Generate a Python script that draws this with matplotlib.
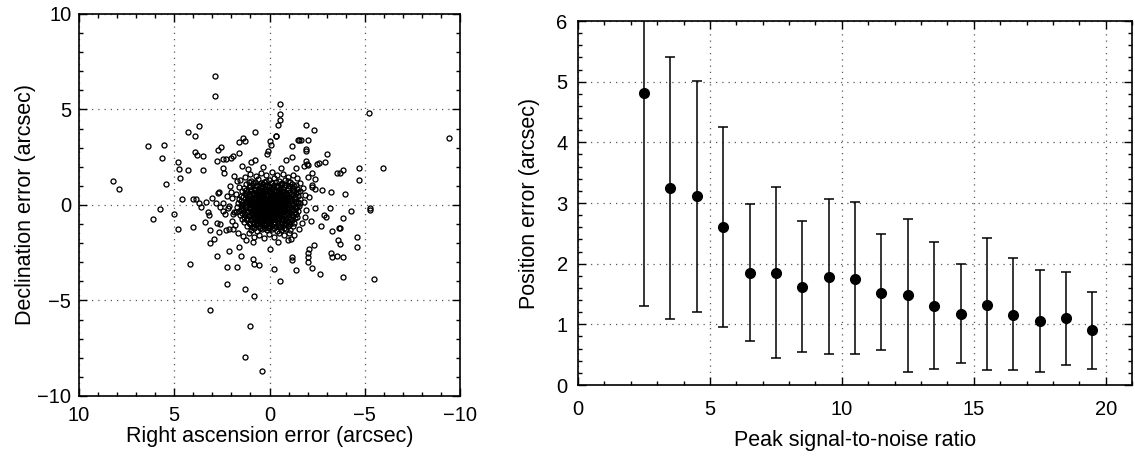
import numpy as np
import matplotlib.pyplot as plt
from matplotlib.ticker import MultipleLocator

plt.rcParams['font.family'] = ['Liberation Sans', 'DejaVu Sans']

# left panel: outlying sources (RA error, Dec error) in arcsec
outer_points = [
    (2.86, 6.74), (2.86, 5.72), (-0.53, 5.26), (-0.53, 4.77), (-0.53, 4.47),
    (-0.42, 4.18), (-0.33, 3.63), (3.72, 4.14), (4.26, 3.81), (3.93, 3.60),
    (6.39, 3.07), (5.54, 3.16), (5.65, 2.44), (4.79, 2.26), (4.74, 1.86),
    (4.70, 1.40), (5.44, 1.09), (8.21, 1.28), (7.89, 0.84), (4.60, 0.32),
    (5.02, -0.46), (5.75, -0.23), (6.09, -0.74), (4.79, -1.25), (4.26, 1.84),
    (3.51, 1.84), (3.51, 2.54), (3.93, 2.75), (3.82, 2.63), (1.60, 3.28),
    (1.39, 3.49), (1.28, 3.33), (0.75, 3.81), (2.72, 2.86), (2.54, 3.04),
    (2.77, 2.32), (2.46, 2.42), (2.39, 1.67), (2.42, 1.91), (2.28, 2.40),
    (2.02, 2.47), (1.60, 2.72), (1.93, 2.54), (1.47, 2.05), (0.99, 2.25),
    (0.75, 2.33), (0.07, 2.81), (0.11, 2.65), (-0.04, 3.33), (-0.09, 3.16),
    (-1.89, 4.21), (-2.35, 3.93), (-1.49, 3.42), (-1.67, 3.40), (-2.04, 3.40),
    (-1.89, 2.93), (-1.93, 2.81), (-3.00, 2.67), (-2.89, 2.25), (-2.51, 2.16),
    (-2.60, 2.19), (-1.96, 2.12), (-3.53, 1.67), (-3.72, 1.68), (-3.86, 1.84),
    (-4.70, 1.95), (-4.70, 1.30), (-2.77, 0.79), (-3.21, 0.67), (-3.96, 0.60),
    (-4.26, -0.33), (-5.25, -0.18), (-5.25, -0.26), (-5.23, 4.81), (-3.86, -0.70),
    (-3.68, -1.18), (-3.63, -1.19), (-3.30, -1.35), (-3.61, -1.81), (-3.72, -2.02),
    (-4.60, -1.68), (-4.60, -2.19), (-3.21, -2.54), (-3.30, -2.74), (-3.54, -2.67),
    (-3.86, -2.74), (-3.86, -3.75), (-5.47, -3.89), (-2.67, -3.60), (-2.25, -3.32),
    (-2.04, -2.96), (-2.04, -2.75), (-2.04, -2.54), (-2.35, -2.12), (-1.39, -3.39),
    (-1.18, -2.88), (-1.18, -2.75), (-0.53, -4.00), (-0.21, -3.35), (0.00, -2.32),
    (0.53, -3.16), (0.84, -3.07), (0.86, -2.81), (1.28, -4.40), (0.84, -4.79),
    (1.05, -6.33), (1.28, -7.98), (0.42, -8.68), (3.11, -5.51), (2.23, -4.16),
    (4.16, -3.09), (2.23, -3.26), (1.70, -3.23), (2.77, -2.68), (2.11, -2.40),
    (1.60, -2.19), (1.49, -2.67), (3.11, -1.98), (2.89, -1.77), (3.14, -1.32),
    (2.67, -1.44), (2.28, -1.32), (1.89, -1.25), (4.04, -1.14), (3.39, -0.91),
    (3.21, -0.39), (3.16, -0.53), (2.77, -0.95), (2.61, -0.98), (4.04, 0.33),
    (3.84, 0.33), (3.72, 0.12), (3.61, -0.09), (3.32, 0.16), (3.04, 0.37),
    (2.79, 0.11), (2.72, 0.61), (2.67, 0.67), (2.58, -0.12), (2.42, -0.30),
    (2.19, -0.18), (2.04, 0.68), (1.93, -0.49), (1.75, -0.39), (-9.40, 3.49),
    (-5.98, 1.93), (-3.19, -0.14), (-2.68, -1.09), (-2.84, -0.53), (-2.98, -0.61),
    (-2.05, -2.28), (-2.37, 0.84), (-2.25, 0.95), (-2.03, 1.46), (-2.37, 1.37),
    (-2.21, 1.67), (-1.82, 2.02), (-2.03, 2.07), (-1.18, 2.49), (-1.39, 1.95),
    (-0.86, 2.35), (-1.93, 2.32), (-1.56, 3.39), (-1.18, 3.07), (-0.32, 3.63),
]

mid_points = [
    (1.86, 1.52), (1.72, 1.25), (2.05, 0.98), (1.95, 0.35), (2.12, -0.05),
    (1.98, -0.82), (1.82, -1.05), (1.65, -1.45), (1.38, -1.62), (1.10, -1.48),
    (0.82, -1.68), (0.55, -1.55), (0.30, -1.71), (0.02, -1.52), (-0.25, -1.66),
    (-0.51, -1.49), (-0.78, -1.58), (-1.02, -1.45), (-1.31, -1.55), (-1.55, -1.28),
    (-1.72, -0.95), (-1.85, -0.62), (-1.92, -0.28), (-1.80, 0.15), (-1.88, 0.52),
    (-1.75, 0.88), (-1.62, 1.15), (-1.45, 1.42), (-1.21, 1.55), (-0.95, 1.48),
    (-0.70, 1.62), (-0.38, 1.58), (-0.12, 1.72), (0.18, 1.55), (0.45, 1.68),
    (0.72, 1.52), (1.02, 1.61), (1.28, 1.45), (1.55, 1.32), (1.58, 0.95),
    (2.25, 0.45), (2.31, -0.45), (2.10, -1.25), (1.25, -1.85), (-0.45, -1.92),
    (-1.15, -1.78), (-2.18, -0.85), (-2.05, 0.42), (-2.25, 1.05), (-0.62, 1.95),
    (0.35, 1.98), (1.15, 1.88), (-1.45, -0.65), (-1.62, 0.72), (1.75, 0.55),
    (1.85, -0.35), (-0.95, -1.82), (0.85, -1.92), (2.45, 0.12), (-2.38, -0.15),
]

core_points = [
    (0.95, 1.28), (0.62, 1.35), (0.31, 1.22), (0.05, 1.31), (-0.22, 1.40),
    (-0.48, 1.25), (-0.81, 1.33), (-1.05, 1.19),
    (1.21, 1.08), (0.88, 1.14), (0.57, 1.02), (0.36, 1.12), (0.12, 1.06),
    (-0.09, 1.15), (-0.34, 1.01), (-0.61, 1.10), (-0.87, 1.04), (-1.16, 1.12),
    (-1.38, 1.07),
    (1.35, 0.88), (1.08, 0.93), (0.81, 0.85), (0.66, 0.97), (0.44, 0.90),
    (0.23, 0.84), (0.02, 0.95), (-0.17, 0.89), (-0.41, 0.92), (-0.55, 0.83),
    (-0.74, 0.96), (-0.98, 0.87), (-1.22, 0.91), (-1.45, 0.86),
    (1.42, 0.71), (1.17, 0.66), (0.96, 0.74), (0.73, 0.68), (0.51, 0.73),
    (0.33, 0.65), (0.14, 0.72), (-0.06, 0.69), (-0.25, 0.76), (-0.44, 0.67),
    (-0.66, 0.72), (-0.85, 0.64), (-1.07, 0.70), (-1.31, 0.75), (-1.52, 0.68),
    (1.50, 0.48), (1.26, 0.53), (1.03, 0.46), (0.84, 0.55), (0.62, 0.49),
    (0.45, 0.52), (0.27, 0.44), (0.09, 0.51), (-0.11, 0.47), (-0.29, 0.54),
    (-0.47, 0.45), (-0.63, 0.50), (-0.82, 0.53), (-1.01, 0.46), (-1.24, 0.51),
    (-1.47, 0.49),
    (1.58, 0.29), (1.31, 0.33), (1.12, 0.27), (0.93, 0.31), (0.71, 0.35),
    (0.55, 0.26), (0.38, 0.32), (0.19, 0.28), (0.03, 0.34), (-0.15, 0.30),
    (-0.33, 0.25), (-0.52, 0.33), (-0.70, 0.29), (-0.91, 0.31), (-1.12, 0.27),
    (-1.33, 0.34), (-1.61, 0.30),
    (1.66, 0.11), (1.40, 0.07), (1.19, 0.13), (0.98, 0.09), (0.79, 0.12),
    (0.61, 0.06), (0.43, 0.10), (0.26, 0.14), (0.08, 0.08), (-0.07, 0.12),
    (-0.24, 0.05), (-0.40, 0.11), (-0.58, 0.09), (-0.77, 0.13), (-0.96, 0.07),
    (-1.17, 0.10), (-1.38, 0.12), (-1.62, 0.08),
    (1.71, -0.09), (1.45, -0.12), (1.22, -0.08), (1.01, -0.13), (0.83, -0.07),
    (0.66, -0.11), (0.48, -0.14), (0.31, -0.09), (0.13, -0.12), (-0.03, -0.06),
    (-0.19, -0.10), (-0.36, -0.13), (-0.53, -0.08), (-0.72, -0.11), (-0.90, -0.14),
    (-1.11, -0.09), (-1.34, -0.12), (-1.57, -0.07),
    (1.62, -0.31), (1.37, -0.27), (1.15, -0.33), (0.94, -0.29), (0.76, -0.34),
    (0.57, -0.26), (0.39, -0.30), (0.21, -0.32), (0.05, -0.28), (-0.12, -0.35),
    (-0.29, -0.29), (-0.46, -0.31), (-0.64, -0.27), (-0.83, -0.33), (-1.03, -0.30),
    (-1.25, -0.28), (-1.48, -0.32),
    (1.55, -0.52), (1.28, -0.47), (1.06, -0.54), (0.87, -0.49), (0.68, -0.53),
    (0.50, -0.46), (0.33, -0.51), (0.16, -0.55), (-0.01, -0.48), (-0.18, -0.52),
    (-0.36, -0.45), (-0.55, -0.50), (-0.74, -0.54), (-0.95, -0.47), (-1.18, -0.51),
    (-1.41, -0.49),
    (1.44, -0.71), (1.19, -0.68), (0.98, -0.74), (0.77, -0.69), (0.58, -0.73),
    (0.40, -0.66), (0.22, -0.72), (0.04, -0.70), (-0.14, -0.75), (-0.31, -0.67),
    (-0.50, -0.71), (-0.69, -0.73), (-0.89, -0.68), (-1.10, -0.72), (-1.33, -0.70),
    (1.33, -0.89), (1.07, -0.93), (0.86, -0.87), (0.66, -0.92), (0.47, -0.88),
    (0.28, -0.94), (0.10, -0.90), (-0.08, -0.86), (-0.26, -0.91), (-0.44, -0.95),
    (-0.63, -0.88), (-0.82, -0.92), (-1.04, -0.89), (-1.27, -0.93),
    (1.18, -1.09), (0.93, -1.13), (0.71, -1.07), (0.49, -1.12), (0.29, -1.06),
    (0.09, -1.14), (-0.12, -1.10), (-0.33, -1.08), (-0.54, -1.13), (-0.76, -1.06),
    (-0.99, -1.11), (-1.21, -1.09),
    (0.97, -1.29), (0.66, -1.34), (0.38, -1.27), (0.14, -1.33), (-0.11, -1.28),
    (-0.37, -1.35), (-0.62, -1.30), (-0.88, -1.26), (-1.09, -1.32),
]

centre_points = [
    (0.55, 0.80), (0.24, 0.78), (-0.08, 0.82), (-0.36, 0.79), (-0.71, 0.81),
    (0.88, 0.61), (0.58, 0.58), (0.38, 0.62), (0.18, 0.59), (-0.02, 0.63),
    (-0.19, 0.57), (-0.37, 0.60), (-0.56, 0.62), (-0.93, 0.58),
    (0.74, 0.41), (0.53, 0.38), (0.36, 0.42), (0.17, 0.39), (-0.04, 0.43),
    (-0.21, 0.37), (-0.39, 0.40), (-0.58, 0.42), (-0.76, 0.38), (-0.95, 0.41),
    (0.85, 0.21), (0.66, 0.18), (0.47, 0.22), (0.30, 0.19), (0.12, 0.23),
    (-0.05, 0.17), (-0.21, 0.20), (-0.37, 0.22), (-0.55, 0.18), (-0.74, 0.21),
    (-0.93, 0.19),
    (0.90, 0.01), (0.71, -0.02), (0.52, 0.02), (0.35, -0.01), (0.17, 0.03),
    (0.01, -0.03), (-0.15, 0.00), (-0.32, 0.02), (-0.49, -0.02), (-0.67, 0.01),
    (-0.86, -0.01),
    (0.86, -0.21), (0.67, -0.18), (0.49, -0.22), (0.30, -0.19), (0.13, -0.23),
    (-0.04, -0.17), (-0.21, -0.20), (-0.38, -0.22), (-0.56, -0.18), (-0.75, -0.21),
    (0.73, -0.41), (0.54, -0.38), (0.36, -0.42), (0.18, -0.39), (0.00, -0.43),
    (-0.17, -0.37), (-0.35, -0.40), (-0.54, -0.42), (-0.73, -0.38),
    (0.61, -0.61), (0.41, -0.58), (0.21, -0.62), (0.02, -0.59), (-0.16, -0.63),
    (-0.35, -0.57), (-0.55, -0.60),
    (0.45, -0.80), (0.15, -0.82), (-0.15, -0.79), (-0.45, -0.81),
    # second layer
    (1.08, 1.18), (0.78, 1.22), (0.47, 1.17), (0.18, 1.24), (-0.35, 1.21),
    (-0.65, 1.16), (-0.95, 1.23),
    (1.05, 0.99), (0.73, 1.03), (0.46, 0.98), (0.24, 1.01), (0.01, 0.97),
    (-0.22, 1.04), (-0.47, 0.99), (-0.74, 1.02), (-1.02, 0.98), (-1.28, 1.00),
    (1.25, 0.79), (0.95, 0.82), (0.75, 0.77), (-0.98, 0.80), (-1.25, 0.78),
    (1.30, 0.61), (1.08, 0.58), (-1.15, 0.60), (-1.38, 0.62),
    (1.38, 0.41), (1.15, 0.38), (0.94, 0.40), (-1.12, 0.39), (-1.35, 0.42),
    (1.48, 0.21), (1.25, 0.18), (1.05, 0.22), (-1.06, 0.19), (-1.27, 0.22),
    (-1.50, 0.18),
    (1.52, 0.02), (1.30, -0.01), (1.10, 0.03), (-1.02, -0.02), (-1.24, 0.01),
    (-1.45, -0.03),
    (1.48, -0.21), (1.26, -0.18), (1.05, -0.22), (-0.95, -0.19), (-1.16, -0.23),
    (-1.38, -0.18),
    (1.42, -0.41), (1.20, -0.38), (0.98, -0.42), (-0.92, -0.39), (-1.12, -0.43),
    (-1.35, -0.38),
    (1.35, -0.61), (1.10, -0.58), (0.85, -0.62), (-0.78, -0.59), (-1.02, -0.63),
    (-1.25, -0.57),
    (1.20, -0.81), (0.95, -0.78), (0.72, -0.82), (-0.72, -0.79), (-0.98, -0.83),
    (-1.18, -0.78),
    (1.05, -1.01), (0.82, -0.98), (0.60, -1.02), (0.38, -0.99), (0.19, -1.03),
    (-0.02, -0.97), (-0.22, -1.01), (-0.43, -1.03), (-0.65, -0.98), (-0.88, -1.02),
    (-1.10, -0.99),
    (0.82, -1.21), (0.52, -1.18), (0.25, -1.22), (0.01, -1.19), (-0.25, -1.23),
    (-0.50, -1.17), (-0.75, -1.21),
    # third layer
    (0.62, 0.70), (0.42, 0.72), (0.23, 0.68), (0.04, 0.71), (-0.15, 0.69),
    (-0.35, 0.72), (-0.55, 0.68), (-0.76, 0.70),
    (0.72, 0.50), (0.54, 0.52), (0.36, 0.48), (0.18, 0.51), (0.00, 0.49),
    (-0.20, 0.53), (-0.38, 0.48), (-0.56, 0.51), (-0.72, 0.49),
    (0.80, 0.30), (0.62, 0.32), (0.46, 0.28), (0.28, 0.31), (0.11, 0.29),
    (-0.06, 0.32), (-0.24, 0.28), (-0.42, 0.30), (-0.61, 0.33), (-0.80, 0.29),
    (0.86, 0.10), (0.69, 0.12), (0.52, 0.08), (0.34, 0.11), (0.17, 0.09),
    (0.00, 0.12), (-0.16, 0.08), (-0.32, 0.10), (-0.49, 0.13), (-0.67, 0.09),
    (-0.86, 0.11),
    (0.88, -0.10), (0.74, -0.08), (0.57, -0.12), (0.39, -0.09), (0.22, -0.11),
    (0.04, -0.08), (-0.11, -0.12), (-0.28, -0.09), (-0.45, -0.11), (-0.62, -0.08),
    (-0.81, -0.12),
    (0.82, -0.30), (0.65, -0.32), (0.47, -0.28), (0.30, -0.31), (0.13, -0.29),
    (-0.04, -0.32), (-0.21, -0.28), (-0.38, -0.31), (-0.55, -0.29), (-0.73, -0.32),
    (0.76, -0.50), (0.58, -0.52), (0.42, -0.48), (0.24, -0.51), (0.07, -0.49),
    (-0.09, -0.52), (-0.27, -0.48), (-0.45, -0.51), (-0.64, -0.49),
    (0.66, -0.70), (0.49, -0.72), (0.31, -0.68), (0.13, -0.71), (-0.05, -0.69),
    (-0.23, -0.72), (-0.41, -0.68), (-0.60, -0.71),
]

# right panel: position error vs peak S/N
snr = [2.5, 3.5, 4.5, 5.5, 6.5, 7.5, 8.5, 9.5, 10.5,
       11.5, 12.5, 13.5, 14.5, 15.5, 16.5, 17.5, 18.5, 19.5]
pos_err = [4.81, 3.24, 3.11, 2.60, 1.85, 1.85, 1.62, 1.78, 1.75,
           1.52, 1.48, 1.30, 1.17, 1.32, 1.16, 1.05, 1.10, 0.90]
err_hi = [6.60, 5.40, 5.01, 4.26, 2.99, 3.27, 2.71, 3.06, 3.01,
          2.49, 2.74, 2.36, 1.99, 2.42, 2.09, 1.89, 1.86, 1.54]
err_lo = [1.31, 1.09, 1.21, 0.96, 0.72, 0.45, 0.54, 0.51, 0.51,
          0.57, 0.22, 0.26, 0.37, 0.24, 0.25, 0.22, 0.33, 0.26]

scatter = np.array(outer_points + mid_points + core_points + centre_points)
ra_err, dec_err = scatter[:, 0], scatter[:, 1]

fig = plt.figure(figsize=(11.35, 4.57), dpi=100)
ax1 = fig.add_axes([0.0696, 0.1335, 0.3357, 0.836])
ax2 = fig.add_axes([0.5093, 0.1575, 0.4881, 0.7965])


def style(ax, xpad, ypad):
    ax.tick_params(which='both', direction='in', top=True, right=True,
                   labelsize=14.5, width=1)
    ax.tick_params(which='major', length=5.5)
    ax.tick_params(which='minor', length=3)
    ax.tick_params(axis='y', pad=ypad)
    ax.tick_params(axis='x', pad=xpad)
    for s in ax.spines.values():
        s.set_linewidth(1.2)
    ax.grid(True, which='major', linestyle=(0, (1, 4)), color='0.35', linewidth=0.9)
    ax.set_axisbelow(True)


ax1.plot(ra_err, dec_err, 'o', mfc='none', mec='k', ms=3.6, mew=0.95)
ax1.set_xlim(10, -10)
ax1.set_ylim(-10, 10)
ax1.xaxis.set_major_locator(MultipleLocator(5))
ax1.xaxis.set_minor_locator(MultipleLocator(1))
ax1.yaxis.set_major_locator(MultipleLocator(5))
ax1.yaxis.set_minor_locator(MultipleLocator(1))
ax1.set_xlabel('Right ascension error (arcsec)', fontsize=15.5, labelpad=1)
ax1.set_ylabel('Declination error (arcsec)', fontsize=15.5, labelpad=1)
style(ax1, 7, 5.5)

snr_a = np.array(snr)
pos_a = np.array(pos_err)
yerr = [pos_a - np.array(err_lo), np.array(err_hi) - pos_a]
ax2.errorbar(snr_a, pos_a, yerr=yerr, fmt='o', color='k', ms=7,
             capsize=3.5, elinewidth=1.1, capthick=1.1)
ax2.set_xlim(0, 21)
ax2.set_ylim(0, 6)
ax2.xaxis.set_major_locator(MultipleLocator(5))
ax2.xaxis.set_minor_locator(MultipleLocator(1))
ax2.yaxis.set_major_locator(MultipleLocator(1))
ax2.yaxis.set_minor_locator(MultipleLocator(0.2))
ax2.set_xlabel('Peak signal-to-noise ratio', fontsize=15.5, labelpad=8)
ax2.set_ylabel('Position error (arcsec)', fontsize=15.5, labelpad=12)
style(ax2, 11, 7.5)

fig.savefig('out.png', dpi=100)
